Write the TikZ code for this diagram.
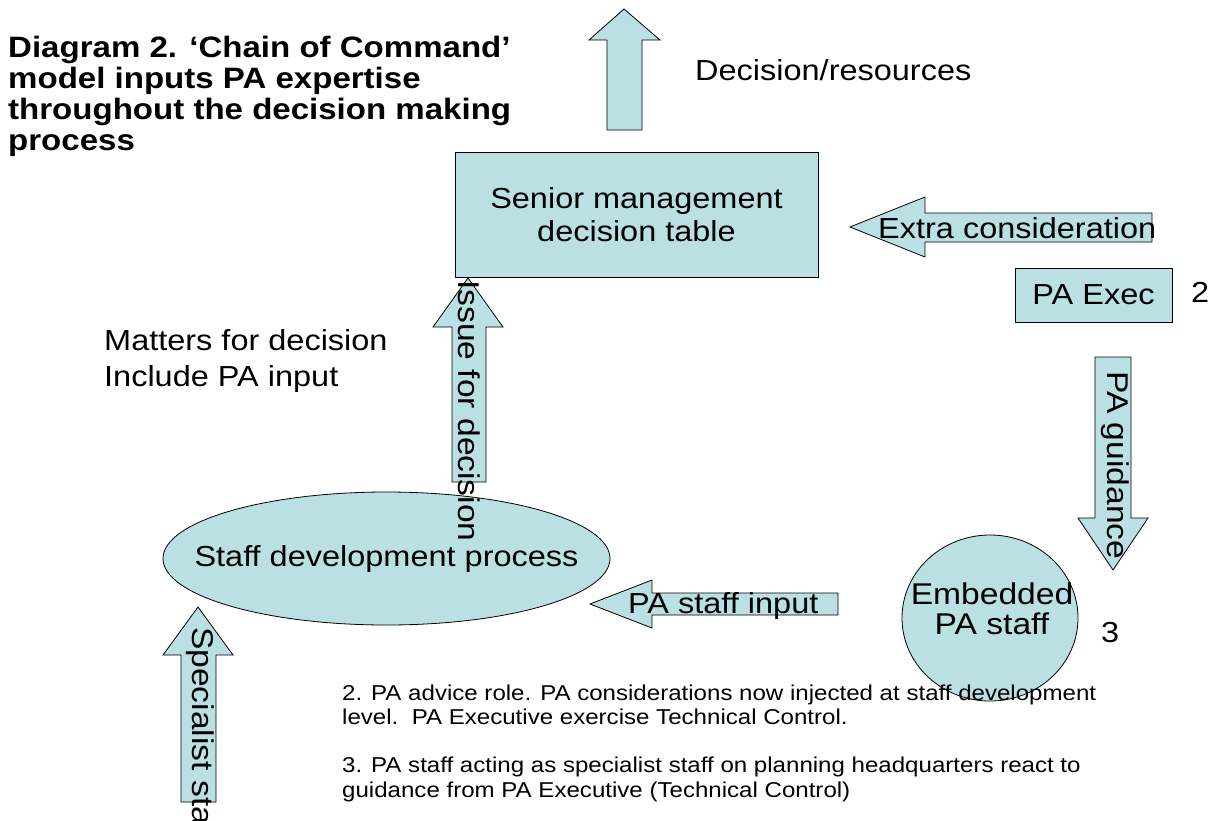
\documentclass[tikz,border=0pt]{standalone}
\usepackage{fontspec}
\setmainfont{Liberation Sans}[FakeStretch=1.12]
\usetikzlibrary{shapes.geometric}
\definecolor{pale}{RGB}{187,224,227}
\begin{document}
\begin{tikzpicture}[x=1pt,y=-1pt,
  blk/.style={fill=pale,draw=black,line width=0.8pt,line join=miter},
  big/.style={font=\fontsize{29}{34}\selectfont},
  small/.style={font=\fontsize{21.5}{24}\selectfont},
  ttl/.style={font=\bfseries\fontsize{29.5}{31}\selectfont},
  txt/.style={inner sep=0pt,anchor=base west},
  vtxt/.style={font=\fontsize{30}{34}\selectfont,inner sep=0pt,rotate=-90,anchor=west}]
\useasboundingbox (0,0) rectangle (1213,820);
\fill[white] (0,0) rectangle (1213,820);
\clip (0,0) rectangle (1213,820);

% title
\node[ttl,txt] (t1) at (8,57) {Diagram 2. ‘Chain of Command’};
\node[ttl,txt] (t2) at (8,88) {model inputs PA expertise};
\node[ttl,txt] (t3) at (8,119) {throughout the decision making};
\node[ttl,txt] (t4) at (8,150) {process};

% boxes and ellipses
\node[blk,big,rectangle,minimum width=363pt,minimum height=125pt,align=center,inner sep=0pt]
  (senior) at (636.5,214.5) {Senior management\\[-1pt]decision table};
\node[blk,big,rectangle,minimum width=157pt,minimum height=54pt,inner sep=0pt]
  (exec) at (1093.5,295) {PA Exec};
\node[blk,ellipse,minimum width=176pt,minimum height=166pt,inner sep=0pt]
  (embedded) at (990,618) {};
\node[font=\fontsize{30}{34}\selectfont,align=center,inner sep=0pt] (embtext) at (992,609) {Embedded\\[-4pt]PA staff};
\node[blk,ellipse,minimum width=447pt,minimum height=133pt,inner sep=0pt]
  (staffdev) at (386.5,558.5) {};
\node[big,inner sep=0pt] (stafftext) at (386.5,559) {Staff development process};

% block arrows
\draw[blk] (607,130) -- (607,40) -- (589,40) -- (624,9) -- (660,40) -- (642,40) -- (642,130) -- cycle;
\draw[blk] (452,482) -- (452,327) -- (433,327) -- (468,278) -- (503,327) -- (486,327) -- (486,482) -- cycle;
\draw[blk] (181,802) -- (181,655) -- (163,655) -- (198,607) -- (233,655) -- (216,655) -- (216,802) -- cycle;
\draw[blk] (1152,213) -- (925,213) -- (925,197) -- (850,227) -- (925,257) -- (925,242) -- (1152,242) -- cycle;
\draw[blk] (1095,357) -- (1131,357) -- (1131,518) -- (1148,518) -- (1113,570) -- (1078,518) -- (1095,518) -- cycle;
\draw[blk] (838,593) -- (652,593) -- (652,580) -- (590,604) -- (652,628) -- (652,615) -- (838,615) -- cycle;

% arrow labels
\node[big,inner sep=0pt,anchor=west] (extra) at (878,228) {Extra consideration};
\node[big,inner sep=0pt,anchor=west] (painput) at (628,606) {PA staff input};
\node[vtxt] (issue) at (469,280) {Issue for decision};
\node[vtxt] (guid) at (1115,371) {PA guidance};
\node[vtxt] (spec) at (200,627) {Specialist staff};

% free text
\node[big,txt] (dec) at (695,80) {Decision/resources};
\node[big,txt] (m1) at (104,350) {Matters for decision};
\node[big,txt] (m2) at (104,386) {Include PA input};
\node[big,txt] (n2) at (1191,302) {2};
\node[big,txt] (n3) at (1101,642) {3};

% notes
\node[small,txt] (a1) at (342,700) {2. PA advice role. PA considerations now injected at staff development};
\node[small,txt] (a2) at (342,724) {level.\ \ PA Executive exercise Technical Control.};
\node[small,txt] (b1) at (342,772) {3. PA staff acting as specialist staff on planning headquarters react to};
\node[small,txt] (b2) at (342,797) {guidance from PA Executive (Technical Control)};
\end{tikzpicture}
\end{document}
